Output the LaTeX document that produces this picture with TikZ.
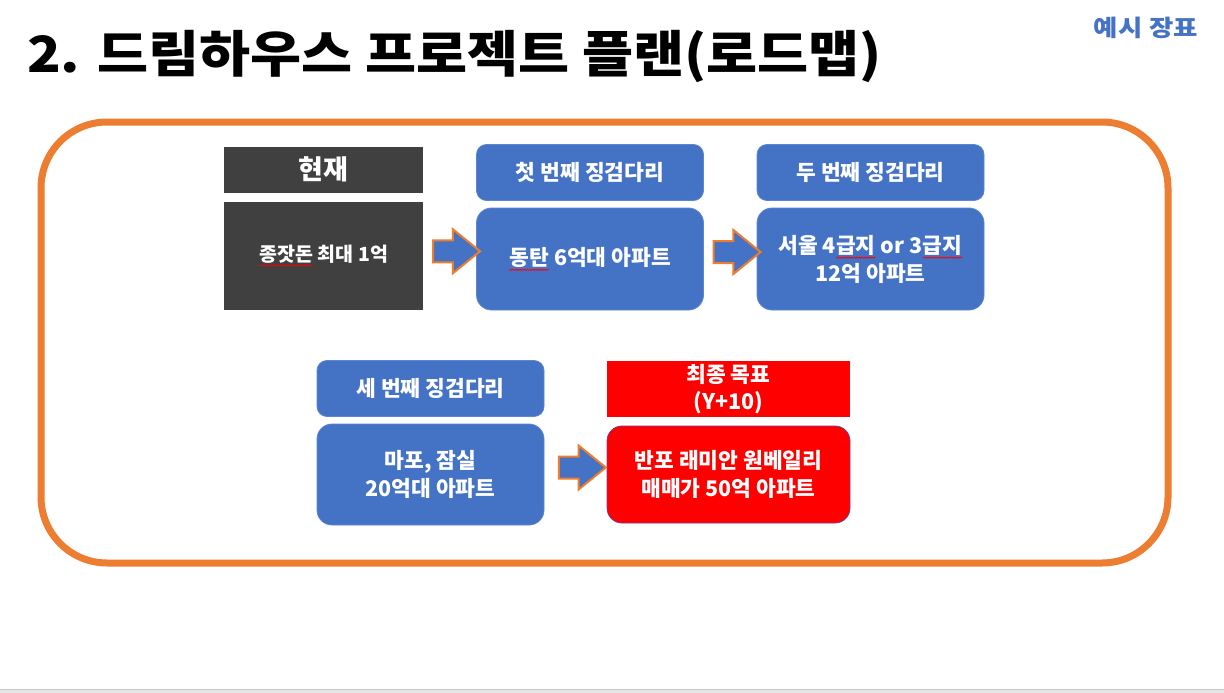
\documentclass[tikz,border=0pt]{standalone}
\usepackage{fontspec}
\setmainfont{Noto Sans CJK KR}
\usetikzlibrary{shapes.arrows,decorations.pathmorphing,calc}
\definecolor{oline}{HTML}{ED7D31}
\definecolor{bfill}{HTML}{4472C4}
\definecolor{bline}{HTML}{5B86D0}
\definecolor{gfill}{HTML}{404040}
\definecolor{rfill}{HTML}{FF0000}
\definecolor{rline}{HTML}{7A3C8C}
\tikzset{
  plainword/.style={minimum width=0pt,minimum height=0pt,fill=none,draw=none,rounded corners=0pt,inner sep=0pt,outer sep=0pt,text=white},
  hdr/.style={minimum width=227pt,minimum height=56pt,inner sep=0pt,fill=bfill,draw=bline,line width=0.8pt,rounded corners=10pt,text=white,font=\fontsize{21.5}{26}\selectfont\bfseries,align=center},
  body/.style={minimum width=227pt,minimum height=102pt,inner sep=0pt,fill=bfill,draw=bline,line width=0.8pt,rounded corners=15pt,text=white,font=\fontsize{21.5}{28}\selectfont\bfseries,align=center},
  barrow/.style={single arrow,fill=bfill,draw=oline,line width=2pt,minimum height=47pt,minimum width=0pt,inner xsep=0pt,inner ysep=10pt,text height=0pt,text depth=0pt,single arrow head extend=11pt,single arrow tip angle=78}
}
\newcommand\spl[1]{\tikz[baseline=(w.base)]{\node[plainword](w){#1};\draw[red,line width=0.6pt,rounded corners=0pt,decorate,decoration={snake,amplitude=0.7pt,segment length=2.5pt}]([yshift=-2.5pt]w.south west)--([yshift=-2.5pt]w.south east);}}
\begin{document}
\begin{tikzpicture}[x=1pt,y=-1pt]
\useasboundingbox (0,0) rectangle (1224,693);
\fill[white] (0,0) rectangle (1224,693);
\fill[black!10] (0,689) rectangle (1224,693);
\draw[black!22,line width=1pt] (0,689.5) -- (1224,689.5);
% title
\node[anchor=base west,inner sep=0pt,font=\fontsize{50}{56}\selectfont\bfseries] (title) at (27,73) {\scalebox{1.11}[1]{2. 드림하우스 프로젝트 플랜(로드맵)}};
\node[anchor=center,inner sep=0pt,text=bfill,font=\fontsize{23}{26}\selectfont\bfseries] (tag) at (1146,28) {\scalebox{1.15}[1]{예시\hspace{6pt}장표}};
% frame
\draw[oline,line width=7pt,rounded corners=66pt] (41,122) rectangle (1168,563);
% now
\node[hdr,fill=gfill,draw=none,rounded corners=0pt,minimum width=199pt,minimum height=46pt,font=\fontsize{27}{30}\selectfont\bfseries] (hnow) at (323.5,169.5) {현재};
\node[body,fill=gfill,draw=none,rounded corners=0pt,minimum width=199pt,minimum height=108pt,font=\fontsize{19.5}{22}\selectfont\bfseries] (bnow) at (323.5,255.5) {\spl{종잣돈} 최대 1억};
% step 1
\node[hdr] (h1) at (590,172.5) {첫 번째 징검다리};
\node[body] (b1) at (590,259) {\spl{동탄} 6억대 아파트};
% step 2
\node[hdr] (h2) at (870.5,172.5) {두 번째 징검다리};
\node[body] (b2) at (870.5,259) {서울 4\spl{급지} or 3\spl{급지}\\12억 아파트};
% step 3
\node[hdr] (h3) at (430.5,388.5) {세 번째 징검다리};
\node[body,minimum height=101pt] (b3) at (430.5,474.5) {마포, 잠실\\20억대 아파트};
% goal
\node[hdr,fill=rfill,draw=none,rounded corners=0pt,minimum width=243pt,font=\fontsize{21.5}{27}\selectfont\bfseries] (hg) at (728.5,389) {최종 목표\\(Y+10)};
\node[body,fill=rfill,draw=rline,minimum width=243pt,minimum height=97pt] (bg) at (728.5,474.5) {반포 래미안 원베일리\\매매가 50억 아파트};
% arrows
\node[barrow] (a1) at ($(bnow.east)!0.5!(b1.west)+(0,-6)$) {};
\node[barrow] (a2) at ($(b1.east)!0.5!(b2.west)+(0,-7)$) {};
\node[barrow] (a3) at ($(b3.east)!0.5!(bg.west)+(0,-7)$) {};
\end{tikzpicture}
\end{document}
